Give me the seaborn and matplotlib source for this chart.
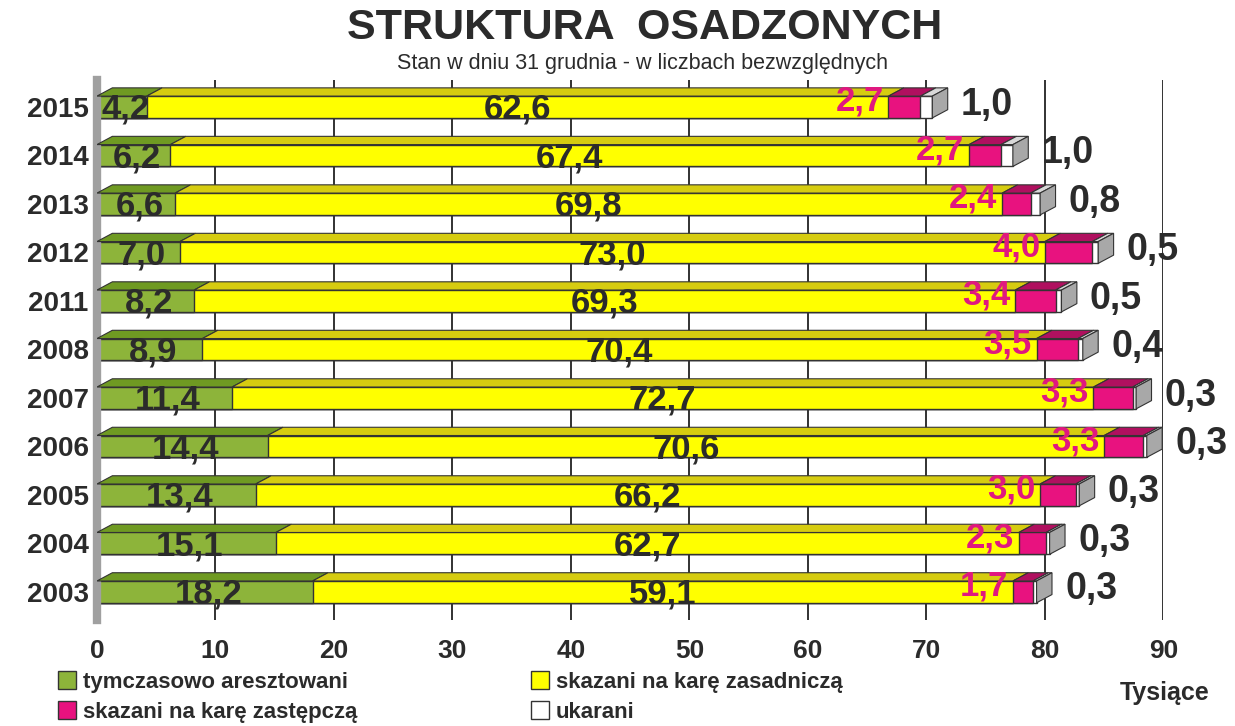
import numpy as np
import pandas as pd
import matplotlib
matplotlib.use('Agg')
import matplotlib.pyplot as plt
from matplotlib.patches import Polygon, Patch
import seaborn as sns

# Data (top to bottom as in the chart)
years = ['2015', '2014', '2013', '2012', '2011', '2008', '2007', '2006', '2005', '2004', '2003']
tymczasowo = [4.2, 6.2, 6.6, 7.0, 8.2, 8.9, 11.4, 14.4, 13.4, 15.1, 18.2]
zasadnicza = [62.6, 67.4, 69.8, 73.0, 69.3, 70.4, 72.7, 70.6, 66.2, 62.7, 59.1]
zastepcza = [2.7, 2.7, 2.4, 4.0, 3.4, 3.5, 3.3, 3.3, 3.0, 2.3, 1.7]
ukarani = [1.0, 1.0, 0.8, 0.5, 0.5, 0.4, 0.3, 0.3, 0.3, 0.3, 0.3]
series_names = ['tymczasowo aresztowani', 'skazani na karę zasadniczą',
                'skazani na karę zastępczą', 'ukarani']
x_ticks = [0, 10, 20, 30, 40, 50, 60, 70, 80, 90]

colors = ['#8db43a', '#ffff00', '#e8127f', '#ffffff']
top_colors = ['#6f9a22', '#d6cc10', '#b0105f', '#d8d8d8']
label_dark = '#2b2b2b'
label_pink = '#e0187f'

sns.set_style('white')
plt.rcParams['font.family'] = ['Liberation Sans', 'DejaVu Sans']

df = pd.DataFrame({'rok': years, 't': tymczasowo, 'z': zasadnicza,
                   'zs': zastepcza, 'u': ukarani})
cum = df[['t', 'z', 'zs', 'u']].cumsum(axis=1)
left = cum.shift(1, axis=1).fillna(0)

fig = plt.figure(figsize=(12.35, 7.26), dpi=100)
ax = fig.add_axes([0.0785, 0.146, 0.8635, 0.744])

bar_h = 0.45
# vertical grid lines behind bars
for t in x_ticks[1:]:
    ax.axvline(t, color='#222222', lw=1.3, zorder=0)

# stacked bars: largest cumulative first
for col, c in zip(['u', 'zs', 'z', 't'], colors[::-1]):
    sns.barplot(data=cum.assign(rok=years), x=col, y='rok', order=years,
                color=c, saturation=1, width=bar_h, edgecolor='#333333', linewidth=1.0,
                orient='h', ax=ax, zorder=2)

# 3D faces derived from the data
dx, dy = 1.3, 0.17
for i in range(len(years)):
    top = i - bar_h / 2
    bot = i + bar_h / 2
    for j, col in enumerate(['t', 'z', 'zs', 'u']):
        l = left.iloc[i, j]
        r = cum.iloc[i, j]
        poly = Polygon([(l, top), (r, top), (r + dx, top - dy), (l + dx, top - dy)],
                       closed=True, facecolor=top_colors[j], edgecolor='#333333',
                       lw=0.8, zorder=3)
        ax.add_patch(poly)
    R = cum.iloc[i, 3]
    side = Polygon([(R, top), (R + dx, top - dy), (R + dx, bot - dy), (R, bot)],
                   closed=True, facecolor='#a8a8a8', edgecolor='#333333', lw=0.8, zorder=3)
    ax.add_patch(side)

# value labels
for i in range(len(years)):
    ax.text(tymczasowo[i] / 2 + 0.3, i + 0.05, f'{tymczasowo[i]:.1f}'.replace('.', ','),
            ha='center', va='center', fontsize=25, fontweight='bold', color=label_dark, zorder=5)
    ax.text(tymczasowo[i] + zasadnicza[i] / 2, i + 0.05, f'{zasadnicza[i]:.1f}'.replace('.', ','),
            ha='center', va='center', fontsize=25, fontweight='bold', color=label_dark, zorder=5)
    ax.text(left.iloc[i, 2] - 0.4, i - 0.12, f'{zastepcza[i]:.1f}'.replace('.', ','),
            ha='right', va='center', fontsize=25, fontweight='bold', color=label_pink, zorder=5)
    ax.text(cum.iloc[i, 3] + 2.4, i - 0.05, f'{ukarani[i]:.1f}'.replace('.', ','),
            ha='left', va='center', fontsize=27, fontweight='bold', color=label_dark, zorder=5)

ax.set_xlim(0, 90)
ax.set_ylim(10.58, -0.56)
ax.set_xticks(x_ticks)
ax.set_xticklabels([str(t) for t in x_ticks], fontsize=19, fontweight='bold', color=label_dark)
ax.set_yticks(range(len(years)))
ax.set_yticklabels(years, fontsize=20, fontweight='bold', color=label_dark)
ax.set_xlabel('')
ax.set_ylabel('')
ax.tick_params(axis='y', length=0, pad=6)
ax.tick_params(axis='x', length=0, pad=14)
for s in ['top', 'right', 'bottom']:
    ax.spines[s].set_visible(False)
ax.spines['left'].set_color('#a0a0a0')
ax.spines['left'].set_linewidth(6)

# titles
fig.text(0.522, 0.962, 'STRUKTURA  OSADZONYCH', ha='center', va='center',
         fontsize=31, fontweight='bold', color='#2b2b2b')
fig.text(0.52, 0.913, 'Stan w dniu 31 grudnia - w liczbach bezwzględnych', ha='center',
         va='center', fontsize=15.5, color='#2b2b2b')
fig.text(0.943, 0.046, 'Tysiące', ha='center', va='center', fontsize=18,
         fontweight='bold', color='#2b2b2b')

# legend
handles = [Patch(facecolor=colors[k], edgecolor='#333333', label=series_names[k]) for k in range(4)]
leg_kw = dict(loc='upper left', frameon=False, handlelength=0.8, handleheight=0.9,
              handletextpad=0.3, labelspacing=0.35, borderaxespad=0,
              prop={'weight': 'bold', 'size': 16})
leg1 = fig.legend(handles=[handles[0], handles[2]], bbox_to_anchor=(0.04, 0.088), **leg_kw)
leg2 = fig.legend(handles=[handles[1], handles[3]], bbox_to_anchor=(0.423, 0.088), **leg_kw)
for leg in (leg1, leg2):
    for t in leg.get_texts():
        t.set_color('#2b2b2b')

fig.savefig('out.png', dpi=100)
